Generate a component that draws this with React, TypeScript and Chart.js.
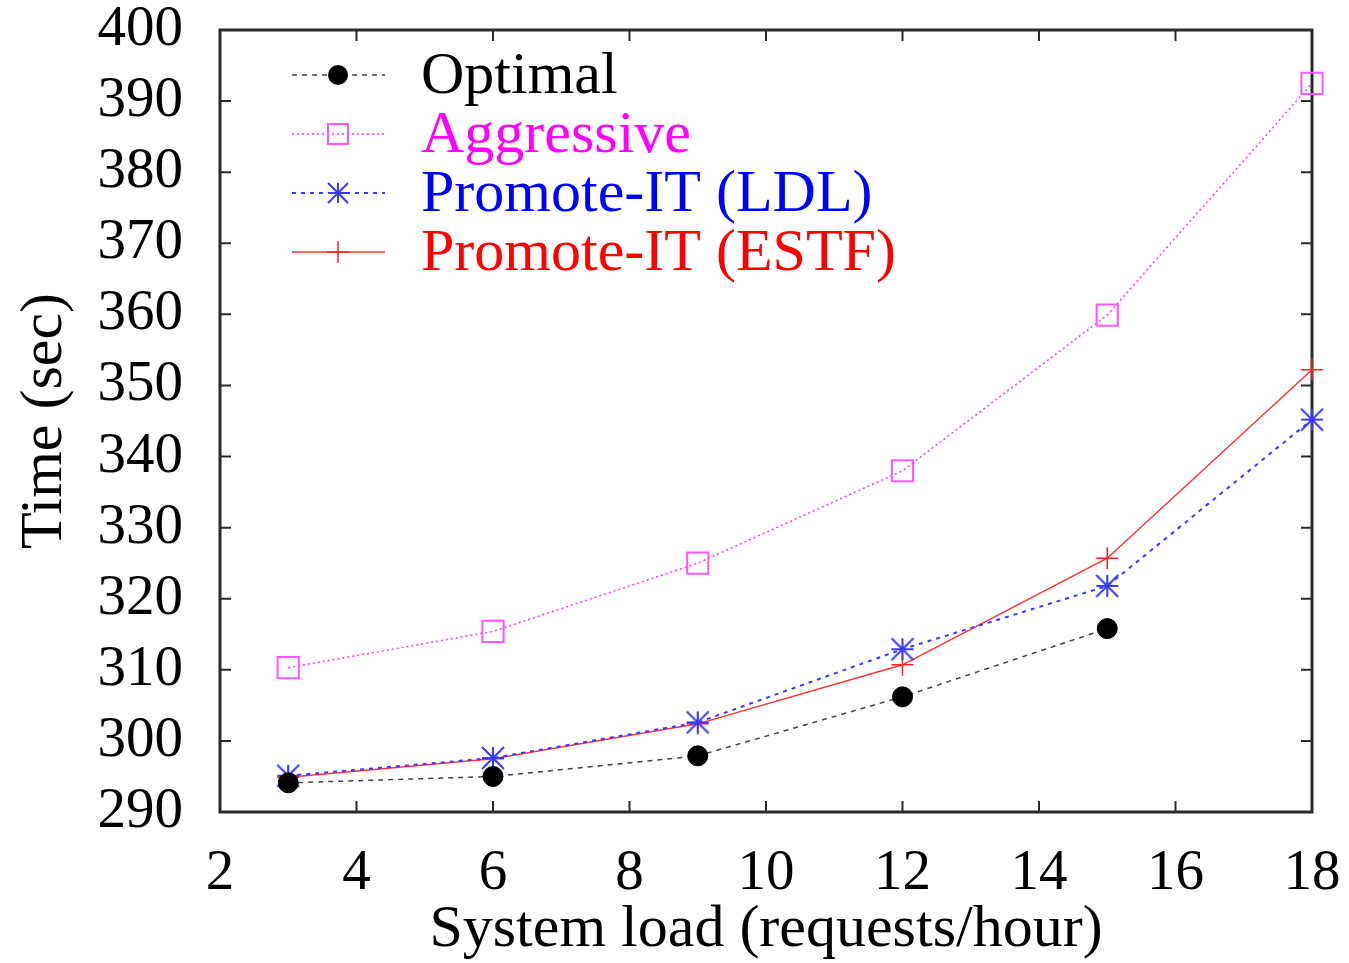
import React, { useEffect, useRef } from 'react';
import { Chart, registerables } from 'chart.js';

Chart.register(...registerables);

// ---- Data ----
const loads = [3, 6, 9, 12, 15, 18];
const optimal = [294.1, 295.0, 297.9, 306.2, 315.8];
const aggressive = [310.3, 315.4, 325.0, 338.0, 359.9, 392.5];
const promoteLDL = [295.1, 297.6, 302.6, 312.9, 321.8, 345.2];
const promoteESTF = [294.9, 297.5, 302.4, 310.7, 325.7, 352.2];

const seriesNames = ['Optimal', 'Aggressive', 'Promote-IT (LDL)', 'Promote-IT (ESTF)'];
const xTitle = 'System load (requests/hour)';
const yTitle = 'Time (sec)';
const xRange = [2, 18];
const xStep = 2;
const yRange = [290, 400];
const yStep = 10;

const FONT = '"Liberation Serif", "Times New Roman", serif';
const TICK_SIZE = 57;
const TEXT_SIZE = 60;

function makeAsterisk(color: string, half: number, lw: number): HTMLCanvasElement {
  const s = Math.ceil(half * 2 + lw * 2 + 2);
  const c = document.createElement('canvas');
  c.width = s;
  c.height = s;
  const g = c.getContext('2d')!;
  const m = s / 2;
  g.strokeStyle = color;
  g.lineWidth = lw;
  g.beginPath();
  g.moveTo(m - half, m); g.lineTo(m + half, m);
  g.moveTo(m, m - half); g.lineTo(m, m + half);
  g.moveTo(m - half, m - half); g.lineTo(m + half, m + half);
  g.moveTo(m - half, m + half); g.lineTo(m + half, m - half);
  g.stroke();
  return c;
}

const framePlugin = {
  id: 'frame',
  beforeDatasetsDraw(chart: any) {
    const { ctx, chartArea, scales } = chart;
    const { left, right, top, bottom } = chartArea;
    ctx.save();
    ctx.strokeStyle = '#2a2a2a';
    ctx.lineWidth = 2;
    const tl = 11;
    ctx.beginPath();
    scales.y.ticks.forEach((t: any) => {
      const p = scales.y.getPixelForValue(t.value);
      if (p <= top + 1 || p >= bottom - 1) return;
      ctx.moveTo(left, p); ctx.lineTo(left + tl, p);
      ctx.moveTo(right, p); ctx.lineTo(right - tl, p);
    });
    scales.x.ticks.forEach((t: any) => {
      const p = scales.x.getPixelForValue(t.value);
      if (p <= left + 1 || p >= right - 1) return;
      ctx.moveTo(p, bottom); ctx.lineTo(p, bottom - tl);
      ctx.moveTo(p, top); ctx.lineTo(p, top + tl);
    });
    ctx.stroke();
    ctx.lineWidth = 3;
    ctx.strokeRect(left, top, right - left, bottom - top);
    ctx.restore();
  },
};

const legendPlugin = {
  id: 'customLegend',
  afterDatasetsDraw(chart: any) {
    const { ctx } = chart;
    const x0 = 292, x1 = 385, xm = 338;
    const rows = [75, 134, 193, 252];
    const textX = 421;
    const textColors = ['#000000', '#ff00ff', '#0000ff', '#ff0000'];
    ctx.save();
    chart.data.datasets.forEach((ds: any, i: number) => {
      const y = rows[i];
      ctx.strokeStyle = ds.borderColor;
      ctx.lineWidth = ds.borderWidth;
      ctx.setLineDash(ds.borderDash || []);
      ctx.beginPath();
      ctx.moveTo(x0, y); ctx.lineTo(x1, y);
      ctx.stroke();
      ctx.setLineDash([]);
      ctx.strokeStyle = ds.pointBorderColor;
      ctx.lineWidth = 2;
      if (i === 0) {
        ctx.fillStyle = '#000';
        ctx.beginPath();
        ctx.arc(xm, y, 10, 0, Math.PI * 2);
        ctx.fill();
      } else if (i === 1) {
        ctx.strokeRect(xm - 10, y - 10, 20, 20);
      } else if (i === 2) {
        const h = 10;
        ctx.beginPath();
        ctx.moveTo(xm - h, y); ctx.lineTo(xm + h, y);
        ctx.moveTo(xm, y - h); ctx.lineTo(xm, y + h);
        ctx.moveTo(xm - h, y - h); ctx.lineTo(xm + h, y + h);
        ctx.moveTo(xm - h, y + h); ctx.lineTo(xm + h, y - h);
        ctx.stroke();
      } else {
        ctx.lineWidth = 1.5;
        ctx.beginPath();
        ctx.moveTo(xm - 11, y); ctx.lineTo(xm + 11, y);
        ctx.moveTo(xm, y - 11); ctx.lineTo(xm, y + 11);
        ctx.stroke();
      }
      ctx.fillStyle = textColors[i];
      ctx.font = `${TEXT_SIZE}px ${FONT}`;
      ctx.textBaseline = 'alphabetic';
      ctx.textAlign = 'left';
      ctx.fillText(seriesNames[i], textX, y + 18);
    });
    ctx.restore();
  },
};

function zeroPadding(scale: any) {
  scale.paddingTop = 0;
  scale.paddingBottom = 0;
  scale.paddingLeft = 0;
  scale.paddingRight = 0;
}

export default function App() {
  const ref = useRef<HTMLCanvasElement>(null);

  useEffect(() => {
    if (!ref.current) return;
    const asterisk = makeAsterisk('#3a3aff', 11, 2);
    const toXY = (vals: number[]) => vals.map((v, i) => ({ x: loads[i], y: v }));

    const chart = new Chart(ref.current, {
      type: 'line',
      data: {
        datasets: [
          {
            label: seriesNames[0],
            data: toXY(optimal),
            borderColor: '#444444',
            borderWidth: 1.5,
            borderDash: [5, 5],
            pointStyle: 'circle',
            pointRadius: 10,
            pointBackgroundColor: '#000',
            pointBorderColor: '#000',
            pointBorderWidth: 1,
            clip: false,
          },
          {
            label: seriesNames[1],
            data: toXY(aggressive),
            borderColor: '#ff33ff',
            borderWidth: 1.5,
            borderDash: [2, 3],
            pointStyle: 'rect',
            pointRadius: 15,
            pointBackgroundColor: 'rgba(0,0,0,0)',
            pointBorderColor: '#ff55ff',
            pointBorderWidth: 2,
            clip: false,
          },
          {
            label: seriesNames[2],
            data: toXY(promoteLDL),
            borderColor: '#3a3aff',
            borderWidth: 2,
            borderDash: [4, 5],
            pointStyle: asterisk,
            pointRadius: 12,
            pointBorderColor: '#3a3aff',
            clip: false,
          },
          {
            label: seriesNames[3],
            data: toXY(promoteESTF),
            borderColor: '#ff3333',
            borderWidth: 1.5,
            pointStyle: 'cross',
            pointRadius: 11,
            pointBorderColor: '#ff2020',
            pointBorderWidth: 1.5,
            clip: false,
          },
        ] as any,
      },
      options: {
        animation: false,
        responsive: false,
        maintainAspectRatio: false,
        layout: { padding: { left: 0, right: 37, top: 30, bottom: 0 } },
        plugins: {
          legend: { display: false },
          tooltip: { enabled: false },
        },
        scales: {
          x: {
            type: 'linear',
            min: xRange[0],
            max: xRange[1],
            grid: { display: false, drawTicks: false },
            border: { display: false },
            ticks: {
              stepSize: xStep,
              padding: 34,
              color: '#000',
              font: { family: FONT, size: TICK_SIZE, lineHeight: 1 },
              maxRotation: 0,
            },
            title: {
              display: true,
              text: xTitle,
              color: '#000',
              font: { family: FONT, size: TEXT_SIZE, lineHeight: 1.1 },
              padding: { top: 0, bottom: 0 },
            },
            afterFit(scale: any) { scale.height = 151; zeroPadding(scale); },
          },
          y: {
            type: 'linear',
            min: yRange[0],
            max: yRange[1],
            grid: { display: false, drawTicks: false },
            border: { display: false },
            ticks: {
              stepSize: yStep,
              padding: 37,
              color: '#000',
              font: { family: FONT, size: TICK_SIZE, lineHeight: 1 },
            },
            title: {
              display: true,
              text: yTitle,
              color: '#000',
              font: { family: FONT, size: TEXT_SIZE, lineHeight: 1.1 },
              padding: { top: 12, bottom: 0 },
            },
            afterFit(scale: any) { scale.width = 220; zeroPadding(scale); },
          },
        },
      },
      plugins: [framePlugin, legendPlugin],
    });
    return () => chart.destroy();
  }, []);

  return (
    <div style={{ position: 'absolute', left: 0, top: 0, width: 1349, height: 963, background: '#fff' }}>
      <canvas ref={ref} width={1349} height={963} style={{ width: 1349, height: 963, display: 'block' }} />
    </div>
  );
}
